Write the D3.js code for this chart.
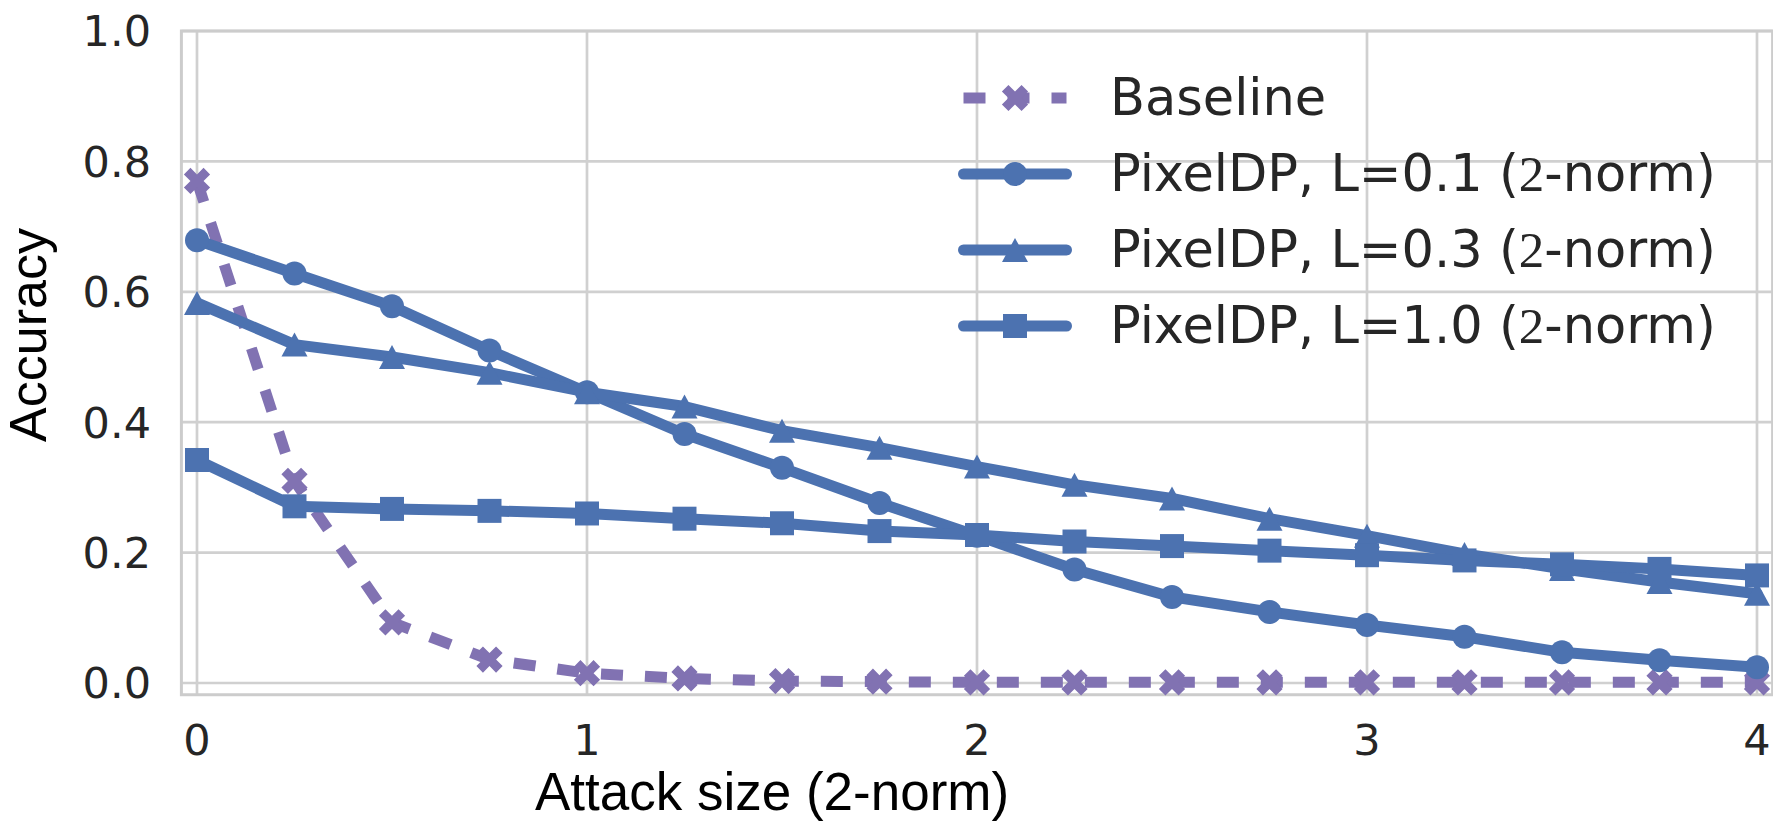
<!DOCTYPE html>
<html>
<head>
<meta charset="utf-8">
<script src="https://cdn.jsdelivr.net/npm/d3@7"></script>
<style>
  html, body { margin: 0; padding: 0; background: #fff; }
  svg { display: block; }
</style>
</head>
<body>
<svg id="chart" width="1773" height="821"></svg>
<script>
// attack sizes (2-norm) on the x axis
const attackSizes = [0, 0.25, 0.5, 0.75, 1, 1.25, 1.5, 1.75, 2, 2.25, 2.5, 2.75, 3, 3.25, 3.5, 3.75, 4];

// accuracy values
const baseline = [0.77, 0.31, 0.093, 0.036, 0.015, 0.007, 0.003, 0.002, 0.001, 0.001, 0.001, 0.001, 0.001, 0.001, 0.001, 0.001, 0.001];
const pixelL01 = [0.679, 0.628, 0.578, 0.510, 0.446, 0.382, 0.330, 0.276, 0.226, 0.174, 0.132, 0.109, 0.089, 0.071, 0.047, 0.035, 0.024];
const pixelL03 = [0.583, 0.519, 0.500, 0.476, 0.446, 0.424, 0.387, 0.361, 0.332, 0.304, 0.283, 0.252, 0.226, 0.198, 0.175, 0.155, 0.137];
const pixelL10 = [0.342, 0.271, 0.267, 0.264, 0.260, 0.252, 0.245, 0.233, 0.227, 0.217, 0.210, 0.203, 0.196, 0.188, 0.182, 0.175, 0.165];

const xTicks = [0, 1, 2, 3, 4];
const yTicks = [0.0, 0.2, 0.4, 0.6, 0.8, 1.0];

const seriesNames = ["Baseline", "PixelDP, L=0.1 (", "PixelDP, L=0.3 (", "PixelDP, L=1.0 ("];

const blue = "#4c72b0";
const purple = "#8172b2";

const series = [
  { name: seriesNames[0], values: baseline, color: purple, marker: "x", dashed: true },
  { name: seriesNames[1], values: pixelL01, color: blue, marker: "circle" },
  { name: seriesNames[2], values: pixelL03, color: blue, marker: "triangle" },
  { name: seriesNames[3], values: pixelL10, color: blue, marker: "square" }
];

const svg = d3.select("#chart");

// scales
const x = d3.scaleLinear().domain([0, 4]).range([197, 1757]);
const y = d3.scaleLinear().domain([0, 1]).range([683, 31]);

const frameLeft = x(-0.04), frameRight = x(4.04);
const frameTop = y(1), frameBottom = y(-0.018);

const gridColor = "#d0d0d0";

// grid
const grid = svg.append("g");
grid.selectAll(".gy").data(yTicks).enter().append("line")
  .attr("x1", frameLeft).attr("x2", frameRight)
  .attr("y1", d => y(d)).attr("y2", d => y(d))
  .attr("stroke", gridColor).attr("stroke-width", 2.7);
grid.selectAll(".gx").data(xTicks).enter().append("line")
  .attr("x1", d => x(d)).attr("x2", d => x(d))
  .attr("y1", frameTop).attr("y2", frameBottom)
  .attr("stroke", gridColor).attr("stroke-width", 2.7);

// frame
svg.append("rect")
  .attr("x", frameLeft).attr("y", frameTop)
  .attr("width", frameRight - frameLeft).attr("height", frameBottom - frameTop)
  .attr("fill", "none").attr("stroke", "#cccccc").attr("stroke-width", 3);

// tick labels
const tickFont = "DejaVu Sans";
svg.append("g").selectAll("text").data(xTicks).enter().append("text")
  .attr("x", d => x(d)).attr("y", 755)
  .attr("text-anchor", "middle")
  .style("font-family", tickFont).style("font-size", "43px").attr("fill", "#262626")
  .text(d => d);
svg.append("g").selectAll("text").data(yTicks).enter().append("text")
  .attr("x", 151).attr("y", d => y(d)).attr("dy", "0.36em")
  .attr("text-anchor", "end")
  .style("font-family", tickFont).style("font-size", "43px").attr("fill", "#262626")
  .text(d => d3.format(".1f")(d));

// axis labels
svg.append("text")
  .attr("transform", "translate(46,335) rotate(-90)")
  .attr("text-anchor", "middle")
  .style("font-family", "Liberation Sans, Arial, sans-serif").style("font-size", "52px")
  .attr("fill", "#000")
  .text("Accuracy");
svg.append("text")
  .attr("x", 772).attr("y", 810)
  .attr("text-anchor", "middle")
  .style("font-family", "Liberation Sans, Arial, sans-serif").style("font-size", "53px")
  .attr("fill", "#000")
  .text("Attack size (2-norm)");

// marker shapes
function markerPath(type) {
  if (type === "circle") return d3.symbol(d3.symbolCircle, Math.PI * 12 * 12)();
  if (type === "square") return "M-12,-12H12V12H-12Z";
  if (type === "triangle") return "M0,-12L13,12L-13,12Z";
  // filled X
  return d3.symbol(d3.symbolCross, 430)();
}

function drawMarker(g, type, color, cx, cy) {
  g.append("path")
    .attr("d", markerPath(type))
    .attr("transform", `translate(${cx},${cy})` + (type === "x" ? " rotate(45)" : ""))
    .attr("fill", color);
}

const line = d3.line()
  .x((d, i) => x(attackSizes[i]))
  .y(d => y(d));

const plot = svg.append("g");
series.forEach(s => {
  const g = plot.append("g");
  g.append("path")
    .datum(s.values)
    .attr("d", line)
    .attr("fill", "none")
    .attr("stroke", s.color)
    .attr("stroke-width", 11)
    .attr("stroke-linejoin", "round")
    .attr("stroke-linecap", s.dashed ? "butt" : "round")
    .attr("stroke-dasharray", s.dashed ? "22,22" : null);
  s.values.forEach((v, i) => drawMarker(g, s.marker, s.color, x(attackSizes[i]), y(v)));
});

// legend
const legendY = [98, 174, 250, 326];
const legend = svg.append("g");
series.forEach((s, i) => {
  const ly = legendY[i];
  legend.append("line")
    .attr("x1", 963.5).attr("x2", 1066.5).attr("y1", ly).attr("y2", ly)
    .attr("stroke", s.color).attr("stroke-width", 11)
    .attr("stroke-linecap", s.dashed ? "butt" : "round")
    .attr("stroke-dasharray", s.dashed ? "22,22" : null);
  drawMarker(legend, s.marker, s.color, 1015, ly);
  const t = legend.append("text")
    .attr("x", 1110).attr("y", ly + 16.5)
    .style("font-family", "DejaVu Sans").style("font-size", "51px")
    .attr("fill", "#262626")
    .text(s.name);
  if (!s.dashed) {
    t.append("tspan").style("font-family", "Liberation Serif").text("2");
    t.append("tspan").text("-norm)");
  }
});
</script>
</body>
</html>
